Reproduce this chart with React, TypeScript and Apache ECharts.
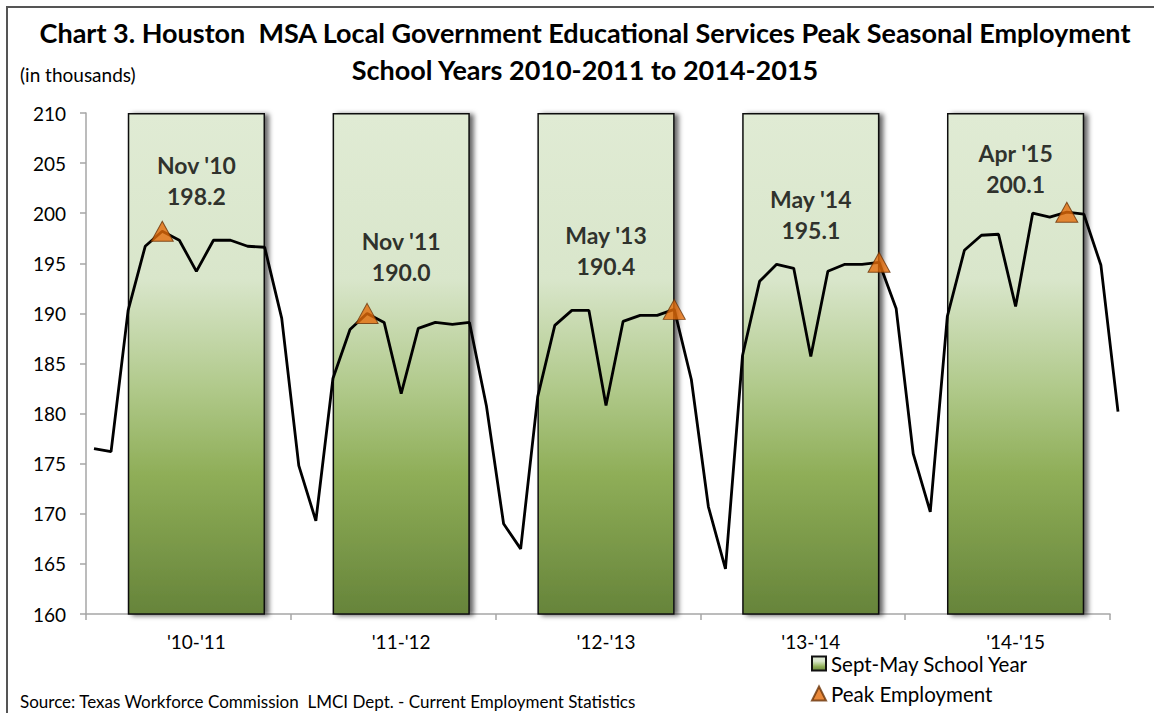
import React, { useEffect, useRef } from "react";
import * as echarts from "echarts";

const schoolYears = ["'10-'11", "'11-'12", "'12-'13", "'13-'14", "'14-'15"];
const schoolYearBarTop = [210, 210, 210, 210, 210];

const months = [
  "Jul '10", "Aug '10", "Sep '10", "Oct '10", "Nov '10", "Dec '10",
  "Jan '11", "Feb '11", "Mar '11", "Apr '11", "May '11", "Jun '11",
  "Jul '11", "Aug '11", "Sep '11", "Oct '11", "Nov '11", "Dec '11",
  "Jan '12", "Feb '12", "Mar '12", "Apr '12", "May '12", "Jun '12",
  "Jul '12", "Aug '12", "Sep '12", "Oct '12", "Nov '12", "Dec '12",
  "Jan '13", "Feb '13", "Mar '13", "Apr '13", "May '13", "Jun '13",
  "Jul '13", "Aug '13", "Sep '13", "Oct '13", "Nov '13", "Dec '13",
  "Jan '14", "Feb '14", "Mar '14", "Apr '14", "May '14", "Jun '14",
  "Jul '14", "Aug '14", "Sep '14", "Oct '14", "Nov '14", "Dec '14",
  "Jan '15", "Feb '15", "Mar '15", "Apr '15", "May '15", "Jun '15",
  "Jul '15",
];

const employment = [
  176.5, 176.2, 190.3, 196.7, 198.2, 197.3,
  194.2, 197.3, 197.3, 196.7, 196.6, 189.5,
  174.8, 169.3, 183.5, 188.4, 190.0, 189.1,
  182.0, 188.5, 189.1, 188.9, 189.1, 180.7,
  169.0, 166.5, 181.7, 188.8, 190.3, 190.3,
  180.8, 189.2, 189.8, 189.8, 190.4, 183.4,
  170.7, 164.5, 185.8, 193.2, 194.9, 194.5,
  185.7, 194.2, 194.9, 194.9, 195.1, 190.5,
  176.0, 170.2, 189.7, 196.3, 197.8, 197.9,
  190.7, 200.0, 199.6, 200.1, 199.9, 194.8,
  180.2,
];

const peakMonths = ["Nov '10", "Nov '11", "May '13", "May '14", "Apr '15"];
const peakValues = [198.2, 190.0, 190.4, 195.1, 200.1];

const yTicks = { min: 160, max: 210, interval: 5 };

const FONT = "Lato, 'Open Sans', sans-serif";

export default function App() {
  const ref = useRef<HTMLDivElement>(null);

  useEffect(() => {
    document.body.style.margin = "0";
    document.body.style.overflow = "hidden";
    if (!ref.current) return;
    const chart = echarts.init(ref.current, null, { renderer: "svg" });

    const barGradient = new echarts.graphic.LinearGradient(0, 0, 0, 1, [
      { offset: 0, color: "#e0ebd4" },
      { offset: 0.33, color: "#d9e6cb" },
      { offset: 0.55, color: "#b0c98a" },
      { offset: 0.72, color: "#8fae58" },
      { offset: 1, color: "#66843a" },
    ]);

    const labelLift = [20, 26, 28, 17, 13];

    const option: any = {
      animation: false,
      backgroundColor: "#ffffff",
      textStyle: { fontFamily: FONT },
      title: {
        text: "Chart 3. Houston  MSA Local Government Educational Services Peak Seasonal Employment\nSchool Years 2010-2011 to 2014-2015",
        left: 580,
        top: 9,
        textAlign: "center",
        textStyle: {
          fontFamily: FONT,
          fontWeight: "bold",
          fontSize: 27,
          lineHeight: 37,
          color: "#000",
        },
      },
      graphic: [
        {
          type: "rect",
          shape: { x: 7, y: 7, width: 1170, height: 740 },
          style: { fill: "none", stroke: "#555", lineWidth: 2 },
          silent: true,
          z: -10,
        },
        {
          type: "text",
          left: 20,
          top: 65,
          style: { text: "(in thousands)", fontSize: 19, fontFamily: FONT, fill: "#000" },
        },
        {
          type: "text",
          left: 20,
          top: 693,
          style: {
            text: "Source: Texas Workforce Commission  LMCI Dept. - Current Employment Statistics",
            fontSize: 17,
            fontFamily: FONT,
            fill: "#000",
          },
        },
      ],
      legend: {
        orient: "vertical",
        left: 806,
        top: 648,
        itemGap: 9,
        itemWidth: 14,
        itemHeight: 14,
        textStyle: { fontSize: 20.5, color: "#000", fontFamily: FONT },
        data: [
          { name: "Sept-May School Year", icon: "rect" },
          { name: "Peak Employment", icon: "triangle" },
        ],
      },
      grid: [
        { left: 86, width: 1024, top: 113, bottom: 99 },
        { left: 94, width: 1024, top: 113, bottom: 99 },
      ],
      xAxis: [
        {
          gridIndex: 0,
          type: "category",
          data: schoolYears,
          axisLine: { show: true, lineStyle: { color: "#a6a6a6", width: 1.5 } },
          axisTick: { show: true, length: 6, lineStyle: { color: "#a6a6a6", width: 1.5 } },
          axisLabel: { show: false },
        },
        {
          gridIndex: 1,
          type: "category",
          data: schoolYears,
          axisLine: { show: false },
          axisTick: { show: false },
          axisLabel: { show: true, fontSize: 19, color: "#000", margin: 18, fontFamily: FONT },
        },
        {
          gridIndex: 1,
          type: "category",
          data: months,
          boundaryGap: false,
          show: false,
        },
      ],
      yAxis: [
        {
          gridIndex: 0,
          type: "value",
          min: yTicks.min,
          max: yTicks.max,
          interval: yTicks.interval,
          axisLine: { show: true, lineStyle: { color: "#a6a6a6", width: 1.5 } },
          axisTick: { show: true, length: 6, lineStyle: { color: "#a6a6a6", width: 1.5 } },
          axisLabel: { fontSize: 19, color: "#000", margin: 20, fontFamily: FONT },
          splitLine: { show: false },
        },
        {
          gridIndex: 1,
          type: "value",
          min: yTicks.min,
          max: yTicks.max,
          interval: yTicks.interval,
          show: false,
          splitLine: { show: false },
        },
      ],
      series: [
        {
          name: "Sept-May School Year",
          type: "bar",
          xAxisIndex: 1,
          yAxisIndex: 1,
          data: schoolYearBarTop,
          barWidth: "67%",
          itemStyle: {
            color: barGradient,
            borderColor: "#111",
            borderWidth: 1.5,
            shadowColor: "rgba(0,0,0,0.6)",
            shadowBlur: 5,
            shadowOffsetX: 4,
            shadowOffsetY: 1,
          },
          z: 1,
        },
        {
          name: "Employment",
          type: "line",
          xAxisIndex: 2,
          yAxisIndex: 1,
          data: employment,
          symbol: "none",
          lineStyle: { color: "#000", width: 2.8 },
          z: 3,
        },
        {
          name: "Peak Employment",
          type: "scatter",
          xAxisIndex: 2,
          yAxisIndex: 1,
          data: peakMonths.map((m, i) => [m, peakValues[i]]),
          symbol: "triangle",
          symbolSize: [22, 20],
          itemStyle: { color: "#e46c0a", borderColor: "#6b3308", borderWidth: 1 },
          z: 4,
        },
        {
          name: "PeakLabels",
          type: "scatter",
          xAxisIndex: 1,
          yAxisIndex: 1,
          symbolSize: 0,
          silent: true,
          data: peakValues.map((v, i) => ({
            value: [schoolYears[i], v],
            label: { distance: labelLift[i] },
          })),
          label: {
            show: true,
            position: "top",
            fontFamily: FONT,
            fontWeight: "bold",
            fontSize: 23,
            lineHeight: 31,
            color: "#000",
            formatter: (p: any) =>
              peakMonths[p.dataIndex] + "\n" + peakValues[p.dataIndex].toFixed(1),
          },
          z: 5,
        },
      ],
    };

    chart.setOption(option);
    return () => chart.dispose();
  }, []);

  return <div ref={ref} style={{ width: 1154, height: 713 }} />;
}
